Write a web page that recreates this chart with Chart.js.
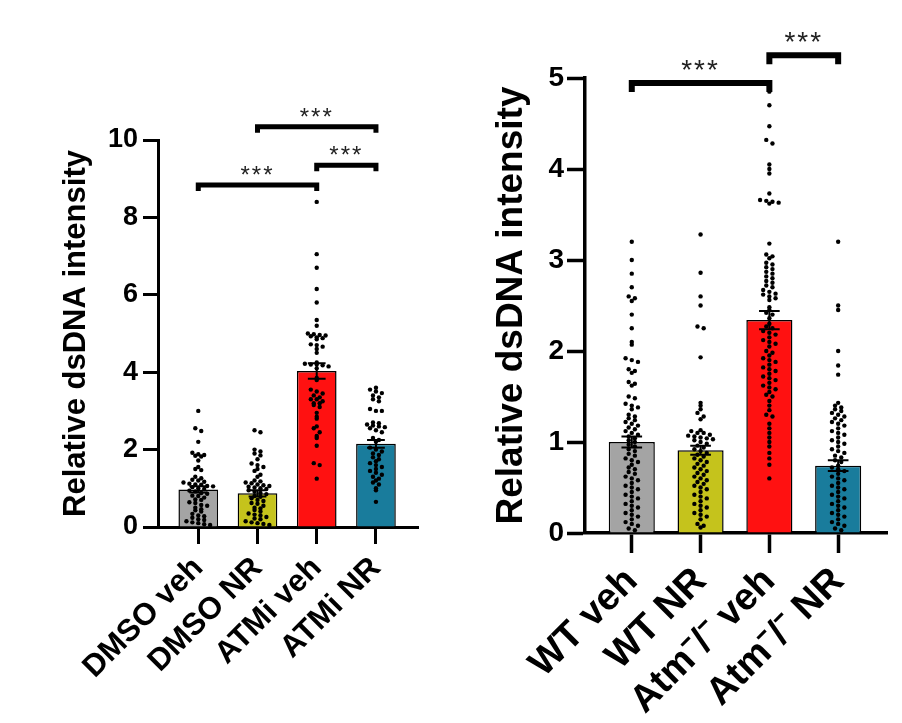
<!DOCTYPE html>
<html>
<head>
<meta charset="utf-8">
<title>Relative dsDNA intensity</title>
<script src="https://cdn.jsdelivr.net/npm/chart.js@4.4.1/dist/chart.umd.min.js"></script>
<style>
  html, body { margin: 0; padding: 0; background: #fff; }
  #page { position: relative; width: 902px; height: 723px; }
  #leftChart { position: absolute; left: 0; top: 0; }
  #rightChart { position: absolute; left: 450px; top: 0; }
</style>
</head>
<body>
<div id="page">
  <canvas id="leftChart" width="450" height="723"></canvas>
  <canvas id="rightChart" width="452" height="723"></canvas>
</div>
<script>
// ---- left panel: cell line, DMSO / ATM inhibitor ----
const leftCategories = ['DMSO veh', 'DMSO NR', 'ATMi veh', 'ATMi NR'];
const leftMeans = [0.97, 0.87, 4.03, 2.15];
const leftSems = [0.08, 0.08, 0.2, 0.1];
const leftTicks = [0, 2, 4, 6, 8, 10];

const dmsoVeh = [3.0, 2.55, 2.48, 2.2, 1.92, 1.88, 1.86, 1.84, 1.82, 1.72, 1.55, 1.5, 1.47,
  1.3, 1.26, 1.22, 1.2, 1.17, 1.15, 1.12, 1.1, 1.09, 1.06, 1.05, 1.03, 1.0, 0.98, 0.94,
  0.92, 0.88, 0.86, 0.81, 0.8, 0.76, 0.71, 0.7, 0.64, 0.62, 0.57, 0.55, 0.5, 0.46, 0.43,
  0.4, 0.34, 0.3, 0.28, 0.24, 0.2, 0.18, 0.15, 0.12, 0.1, 0.07, 0.05];
const dmsoNR = [2.5, 2.45, 2.0, 1.95, 1.9, 1.85, 1.75, 1.64, 1.6, 1.55, 1.5, 1.45, 1.35,
  1.3, 1.2, 1.18, 1.15, 1.13, 1.1, 1.08, 1.06, 1.04, 1.02, 1.0, 0.98, 0.95, 0.91, 0.88,
  0.85, 0.8, 0.78, 0.74, 0.7, 0.67, 0.62, 0.6, 0.55, 0.5, 0.48, 0.44, 0.4, 0.35, 0.32,
  0.3, 0.26, 0.22, 0.2, 0.15, 0.12, 0.1, 0.08, 0.05];
const atmiVeh = [8.4, 7.05, 6.7, 6.15, 5.8, 5.35, 5.2, 5.0, 4.98, 4.96, 4.93, 4.9, 4.88,
  4.95, 4.85, 4.72, 4.7, 4.66, 4.6, 4.5, 4.25, 4.22, 4.2, 4.2, 4.18, 4.15, 4.1, 3.85,
  3.8, 3.55, 3.5, 3.45, 3.4, 3.35, 3.3, 3.3, 3.25, 3.2, 3.2, 3.15, 3.1, 2.95, 2.85,
  2.8, 2.6, 2.55, 2.45, 2.35, 2.3, 2.1, 1.65, 1.6, 1.25];
const atmiNR = [3.6, 3.55, 3.5, 3.46, 3.4, 3.35, 3.3, 3.25, 3.05, 3.0, 3.0, 2.7, 2.68,
  2.65, 2.62, 2.6, 2.58, 2.55, 2.5, 2.45, 2.3, 2.25, 2.2, 2.05, 2.0, 1.95, 1.9, 1.86,
  1.8, 1.75, 1.7, 1.65, 1.6, 1.55, 1.5, 1.45, 1.4, 1.35, 1.3, 1.25, 1.2, 1.15, 1.1,
  1.0, 0.95, 0.65];

// ---- right panel: WT / Atm-/- mice ----
const rightCategories = ['WT veh', 'WT NR', 'Atm\u207B/\u207B veh', 'Atm\u207B/\u207B NR'];
const rightMeans = [1.0, 0.91, 2.34, 0.74];
const rightSems = [0.06, 0.05, 0.1, 0.06];
const rightTicks = [0, 1, 2, 3, 4, 5];

const wtVeh = [3.2, 3.0, 2.85, 2.7, 2.6, 2.58, 2.55, 2.4, 2.25, 2.1, 2.07, 1.92, 1.9,
  1.88, 1.8, 1.78, 1.76, 1.66, 1.64, 1.62, 1.5, 1.48, 1.42, 1.4, 1.38, 1.36, 1.3, 1.28,
  1.26, 1.24, 1.22, 1.2, 1.18, 1.16, 1.14, 1.12, 1.1, 1.08, 1.06, 1.04, 1.02, 1.0, 0.97,
  0.95, 0.92, 0.9, 0.87, 0.85, 0.82, 0.8, 0.78, 0.75, 0.72, 0.7, 0.67, 0.65, 0.62, 0.6,
  0.58, 0.55, 0.52, 0.5, 0.48, 0.45, 0.42, 0.4, 0.38, 0.35, 0.32, 0.3, 0.28, 0.25, 0.22,
  0.2, 0.18, 0.15, 0.12, 0.1, 0.08, 0.05, 0.03];
const wtNR = [3.28, 2.86, 2.6, 2.5, 2.27, 2.25, 1.93, 1.43, 1.4, 1.36, 1.32, 1.28, 1.25,
  1.13, 1.12, 1.1, 1.1, 1.08, 1.07, 1.06, 1.05, 1.04, 1.03, 1.02, 1.0, 0.98, 0.96, 0.94,
  0.92, 0.9, 0.88, 0.86, 0.84, 0.82, 0.8, 0.78, 0.76, 0.74, 0.72, 0.7, 0.68, 0.66, 0.64,
  0.62, 0.6, 0.58, 0.56, 0.54, 0.52, 0.5, 0.48, 0.45, 0.42, 0.4, 0.38, 0.35, 0.32, 0.3,
  0.28, 0.25, 0.22, 0.2, 0.18, 0.15, 0.1, 0.08, 0.06];
const atmVeh = [4.85, 4.7, 4.47, 4.32, 4.28, 4.05, 4.0, 3.95, 3.73, 3.66, 3.65, 3.64,
  3.63, 3.62, 3.18, 3.06, 3.04, 3.02, 2.97, 2.95, 2.92, 2.9, 2.87, 2.85, 2.82, 2.8,
  2.77, 2.75, 2.72, 2.7, 2.67, 2.65, 2.63, 2.62, 2.6, 2.58, 2.56, 2.48, 2.45, 2.42, 2.4,
  2.36, 2.3, 2.27, 2.25, 2.22, 2.2, 2.18, 2.15, 2.12, 2.1, 2.08, 2.05, 2.0, 1.98, 1.95,
  1.92, 1.9, 1.88, 1.85, 1.82, 1.8, 1.78, 1.75, 1.72, 1.7, 1.68, 1.65, 1.62, 1.6, 1.58,
  1.55, 1.52, 1.5, 1.45, 1.4, 1.35, 1.3, 1.28, 1.2, 1.15, 1.1, 1.05, 1.0, 0.95, 0.88,
  0.82, 0.75, 0.6];
const atmNR = [3.2, 2.5, 2.45, 2.0, 1.84, 1.74, 1.43, 1.4, 1.38, 1.36, 1.34, 1.32, 1.3,
  1.28, 1.26, 1.24, 1.22, 1.2, 1.18, 1.15, 1.12, 1.1, 1.08, 1.05, 1.02, 1.0, 0.98, 0.95,
  0.92, 0.9, 0.88, 0.85, 0.83, 0.8, 0.78, 0.74, 0.72, 0.7, 0.68, 0.65, 0.62, 0.6, 0.58,
  0.55, 0.52, 0.5, 0.48, 0.45, 0.42, 0.4, 0.38, 0.35, 0.32, 0.3, 0.28, 0.25, 0.22, 0.2,
  0.18, 0.15, 0.12, 0.1, 0.08, 0.05, 0.03];

const barColors = ['#a4a4a4', '#c5c31c', '#ff1111', '#197c9c'];
const FONT = "'Liberation Sans', Arial, Helvetica, sans-serif";

// spread the dots of one group sideways, a little beeswarm by value bins
function swarm(groups, binSize, step, maxHalf) {
  const pts = [];
  groups.forEach((values, g) => {
    const bins = {};
    values.forEach(v => {
      const k = Math.round(v / binSize);
      (bins[k] = bins[k] || []).push(v);
    });
    Object.values(bins).forEach(list => {
      const n = list.length;
      const s = n > 1 ? Math.min(step, 2 * maxHalf / (n - 1)) : 0;
      list.forEach((v, j) => pts.push({ x: g + (j - (n - 1) / 2) * s, y: v }));
    });
  });
  return pts;
}

// error bars (mean +/- SEM) and significance brackets
function makeAnnotations(means, sems, brackets, look) {
  return {
    id: 'annotations',
    afterDatasetsDraw(chart) {
      const { ctx, scales: { x, y } } = chart;
      ctx.save();
      ctx.strokeStyle = '#000';
      ctx.lineCap = 'butt';

      ctx.lineWidth = look.errWidth;
      means.forEach((m, i) => {
        const px = x.getPixelForValue(i);
        const hw = x.getPixelForValue(i + look.capHalf) - px;
        const top = y.getPixelForValue(m + sems[i]);
        const bot = y.getPixelForValue(m - sems[i]);
        ctx.beginPath();
        ctx.moveTo(px, top); ctx.lineTo(px, bot);
        ctx.moveTo(px - hw, top); ctx.lineTo(px + hw, top);
        ctx.moveTo(px - hw, bot); ctx.lineTo(px + hw, bot);
        ctx.stroke();
      });

      ctx.lineWidth = look.bracketWidth;
      ctx.lineJoin = 'miter';
      ctx.fillStyle = '#222';
      ctx.font = look.starFont;
      ctx.textAlign = 'center';
      ctx.textBaseline = 'alphabetic';
      ctx.letterSpacing = look.starSpacing;
      brackets.forEach(b => {
        const x1 = x.getPixelForValue(b.from);
        const x2 = x.getPixelForValue(b.to);
        const py = y.getPixelForValue(b.y);
        ctx.beginPath();
        ctx.moveTo(x1, py + look.drop);
        ctx.lineTo(x1, py);
        ctx.lineTo(x2, py);
        ctx.lineTo(x2, py + look.drop);
        ctx.stroke();
        ctx.fillText(b.label, (x1 + x2) / 2, py - look.starGap);
      });
      ctx.restore();
    }
  };
}

function drawPanel(el, p) {
  const tickFont = { family: FONT, size: p.tickSize, weight: 'bold' };
  return new Chart(document.getElementById(el), {
    type: 'bar',
    data: {
      datasets: [
        {
          type: 'scatter',
          data: swarm(p.groups, p.binSize, p.step, 0.3),
          backgroundColor: '#000',
          borderWidth: 0,
          pointRadius: p.dot,
          order: 0
        },
        {
          type: 'bar',
          data: p.means.map((m, i) => ({ x: i, y: m })),
          backgroundColor: barColors,
          borderColor: '#000',
          borderWidth: p.barBorder,
          barPercentage: 0.67,
          categoryPercentage: 1,
          order: 1
        }
      ]
    },
    options: {
      responsive: false,
      animation: false,
      layout: { padding: { top: p.top, right: p.right, left: 0, bottom: 0 } },
      plugins: { legend: { display: false }, tooltip: { enabled: false } },
      scales: {
        x: {
          type: 'linear',
          min: -0.68,
          max: 3.71,
          offset: false,
          afterBuildTicks: s => { s.ticks = p.categories.map((c, i) => ({ value: i })); },
          afterFit: s => { s.height = p.xHeight; },
          ticks: {
            autoSkip: false,
            minRotation: 45,
            maxRotation: 45,
            padding: p.labelPad,
            color: '#000',
            font: { family: FONT, size: p.labelSize, weight: 'bold' },
            callback: v => p.categories[v]
          },
          grid: {
            drawOnChartArea: false,
            offset: false,
            tickLength: p.xTickLen,
            tickWidth: p.axisWidth,
            tickColor: '#000'
          },
          border: { color: '#000', width: p.axisWidth }
        },
        y: {
          min: 0,
          max: p.ticks[p.ticks.length - 1],
          afterBuildTicks: s => { s.ticks = p.ticks.map(v => ({ value: v })); },
          afterFit: s => { s.width = p.yWidth; },
          ticks: { color: '#000', font: tickFont, padding: p.tickPad },
          grid: {
            drawOnChartArea: false,
            tickLength: p.yTickLen,
            tickWidth: p.axisWidth,
            tickColor: '#000'
          },
          border: { color: '#000', width: p.axisWidth },
          title: {
            display: true,
            text: 'Relative dsDNA intensity',
            color: '#000',
            font: { family: FONT, size: p.titleSize, weight: 'bold' },
            padding: { top: p.titlePad, bottom: 0 }
          }
        }
      }
    },
    plugins: [makeAnnotations(p.means, p.sems, p.brackets, p.look)]
  });
}

drawPanel('leftChart', {
  categories: leftCategories,
  means: leftMeans,
  sems: leftSems,
  ticks: leftTicks,
  groups: [dmsoVeh, dmsoNR, atmiVeh, atmiNR],
  binSize: 0.1, step: 0.1, dot: 2.2,
  top: 140, right: 32, yWidth: 158, xHeight: 196,
  tickSize: 27, tickPad: 5, yTickLen: 15, xTickLen: 17,
  labelSize: 31, labelPad: 6,
  titleSize: 31, titlePad: 58,
  axisWidth: 3, barBorder: 1.5,
  brackets: [
    { from: 0, to: 2, y: 8.84, label: '***' },
    { from: 2, to: 3, y: 9.35, label: '***' },
    { from: 1, to: 3, y: 10.34, label: '***' }
  ],
  look: { errWidth: 2, capHalf: 0.15, bracketWidth: 5, drop: 6, starGap: 2,
    starFont: '24px ' + FONT, starSpacing: '2px' }
});

drawPanel('rightChart', {
  categories: rightCategories,
  means: rightMeans,
  sems: rightSems,
  ticks: rightTicks,
  groups: [wtVeh, wtNR, atmVeh, atmNR],
  binSize: 0.05, step: 0.09, dot: 2.2,
  top: 78, right: 15, yWidth: 135, xHeight: 190,
  tickSize: 28, tickPad: 3, yTickLen: 18, xTickLen: 20,
  labelSize: 38, labelPad: 6,
  titleSize: 37, titlePad: 40,
  axisWidth: 3.5, barBorder: 1.5,
  brackets: [
    { from: 0, to: 2, y: 4.945, label: '***' },
    { from: 2, to: 3, y: 5.25, label: '***' }
  ],
  look: { errWidth: 2, capHalf: 0.15, bracketWidth: 6, drop: 9, starGap: 4,
    starFont: '28px ' + FONT, starSpacing: '2px' }
});
</script>
</body>
</html>
